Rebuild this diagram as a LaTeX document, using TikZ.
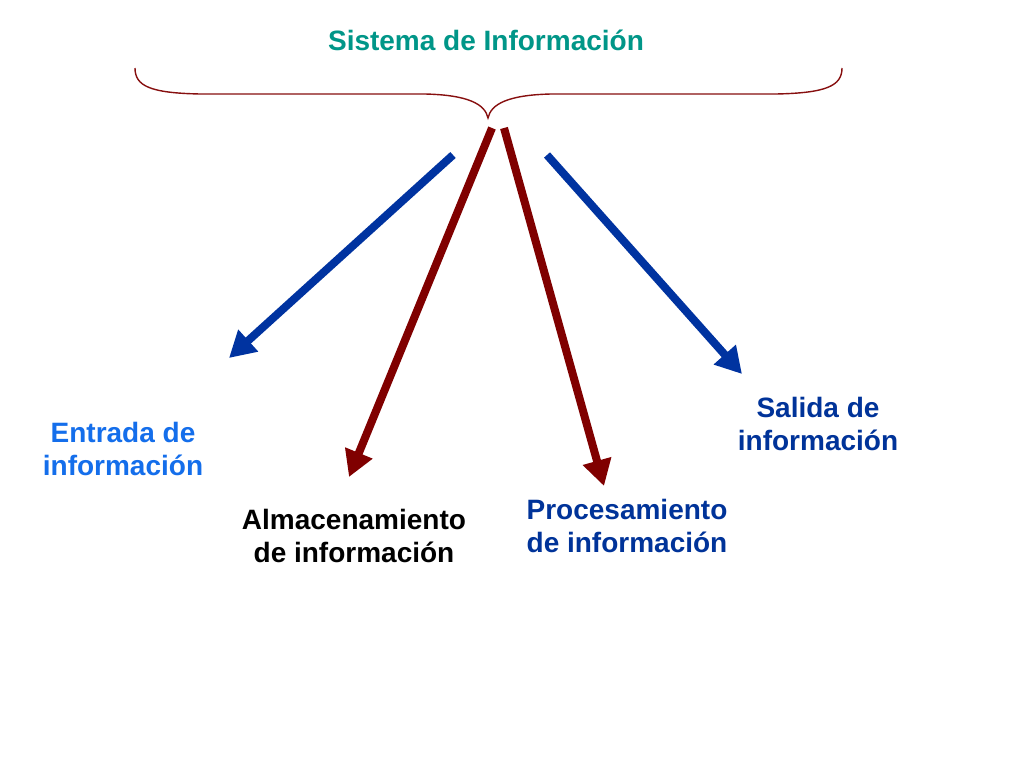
\documentclass[tikz,border=0pt]{standalone}
\usepackage{fontspec}
\setmainfont{Liberation Sans}
\usetikzlibrary{arrows.meta}
\definecolor{titleteal}{RGB}{0,150,136}
\definecolor{entblue}{RGB}{20,110,235}
\definecolor{darkblue}{RGB}{0,51,153}
\definecolor{arrblue}{RGB}{0,51,160}
\definecolor{arrred}{RGB}{128,0,0}
\definecolor{bracered}{RGB}{135,15,15}
\tikzset{
  lbl/.style={font=\fontsize{28}{33}\selectfont\bfseries, align=center, inner sep=0pt},
  bigarrow/.style={line width=8pt, -{Triangle[length=26pt,width=28pt]}},
  bluearrow/.style={bigarrow, draw=arrblue, fill=arrblue},
  redarrow/.style={bigarrow, draw=arrred, fill=arrred},
  bracestyle/.style={draw=bracered, line width=1.4pt}
}
\begin{document}
\begin{tikzpicture}[x=1pt,y=-1pt]
\useasboundingbox (0,0) rectangle (1024,768);
\fill[white] (0,0) rectangle (1024,768);

\node[lbl, text=titleteal, anchor=base] (title) at (486,50) {Sistema de Información};

% brace
\draw[bracestyle] (135,68) .. controls (135,86) and (150,93) .. (200,94)
  -- (425,94) .. controls (468,95) and (485,104) .. (488,118)
  .. controls (491,104) and (508,95) .. (551,94)
  -- (776,94) .. controls (826,93) and (842,86) .. (842,68);

% arrow start and end points
\coordinate (s1) at (453,155);
\coordinate (s2) at (492,128);
\coordinate (s3) at (504,128);
\coordinate (s4) at (547,155);
\coordinate (e1) at (229,358);
\coordinate (e2) at (349,477);
\coordinate (e3) at (604,486);
\coordinate (e4) at (742,374);

\draw[bluearrow] (s1) -- (e1);
\draw[redarrow] (s2) -- (e2);
\draw[redarrow] (s3) -- (e3);
\draw[bluearrow] (s4) -- (e4);

\node[lbl, text=entblue] (entrada) at (123,449) {Entrada de\\información};
\node[lbl, text=black] (alm) at (354,536) {Almacenamiento\\de información};
\node[lbl, text=darkblue] (proc) at (627,526) {Procesamiento\\de información};
\node[lbl, text=darkblue] (salida) at (818,424) {Salida de\\información};
\end{tikzpicture}
\end{document}
